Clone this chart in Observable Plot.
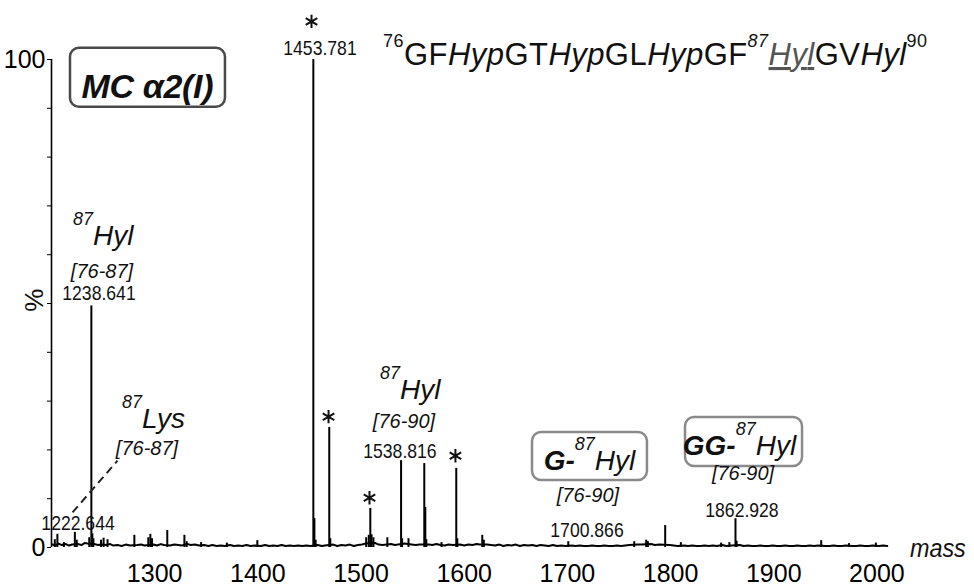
<!DOCTYPE html>
<html><head><meta charset="utf-8">
<script src="https://cdn.jsdelivr.net/npm/d3@7"></script>
<script src="https://cdn.jsdelivr.net/npm/@observablehq/plot@0.6"></script>
<style>body{margin:0;background:#fff} svg{display:block}</style>
</head><body><div id="chart"></div>
<script>
// ---- data ----
const peakMass = [1203.2,1205.7,1212,1222.644,1224.5,1236.6,1238.641,1239.6,1240.6,1248,1250.5,1254.3,1280.3,1293.8,1295.8,1297.4,1312.2,1328.8,1331,1345,1370,1399.5,1453.781,1454.8,1456,1469.2,1470.2,1505,1507.5,1509.0,1510.2,1512,1525.5,1538.816,1539.8,1546,1561.3,1562.3,1563.3,1578,1592.3,1593.3,1617.5,1619,1700.866,1764.8,1776.4,1778,1794.8,1810,1849,1857,1862.928,1864,1946,1973,1999];
const peakIntensity = [1.6,2.7,1.0,3.1,1.5,2.0,49.5,2.8,1.8,1.5,1.9,1.6,2.5,2.0,2.7,1.8,3.5,2.5,1.2,1.0,0.9,1.4,100,5.9,1.5,24.6,1.8,2.0,2.5,8.0,2.6,2.0,2.0,17.8,1.8,1.8,17.2,8.2,1.6,1.0,16.2,1.8,2.5,1.5,1.2,1.2,1.5,1.2,4.5,1.0,0.9,1.0,5.9,1.3,1.4,0.8,0.9];
const noise = [[1201,.6],[1204,.4],[1207,.8],[1210,.5],[1214,.7],[1217,.4],[1220,.6],[1226,.7],[1229,.5],[1232,.9],[1235,.8],[1242,.7],[1245,.5],[1249,.6],[1253,.5],[1257,.7],[1260,.4],[1264,.5],[1268,.3],[1272,.6],[1276,.4],[1283,.5],[1287,.6],[1290,.4],[1299,.6],[1302,.4],[1306,.7],[1309,.5],[1315,.4],[1319,.6],[1323,.5],[1326,.4],[1332,.7],[1335,.5],[1339,.6],[1343,.4],[1348,.5],[1352,.3],[1356,.5],[1360,.3],[1364,.4],[1368,.3],[1373,.5],[1377,.3],[1381,.4],[1385,.3],[1389,.5],[1393,.3],[1397,.4],[1403,.3],[1407,.5],[1411,.3],[1415,.4],[1419,.3],[1423,.5],[1427,.3],[1431,.4],[1435,.3],[1439,.4],[1443,.3],[1447,.4],[1451,.3],[1458,.5],[1462,.3],[1465,.4],[1473,.6],[1477,.3],[1481,.5],[1485,.4],[1489,.6],[1493,.3],[1497,.5],[1501,.6],[1504,.8],[1514,.9],[1517,.6],[1521,.5],[1529,.7],[1533,.5],[1536,.6],[1542,.8],[1549,.6],[1553,.5],[1557,.6],[1566,.6],[1569,.5],[1573,.7],[1577,.5],[1581,.4],[1585,.6],[1589,.5],[1596,.6],[1600,.4],[1604,.6],[1608,.5],[1612,.7],[1615,.6],[1622,.6],[1626,.5],[1630,.4],[1634,.6],[1638,.3],[1642,.5],[1646,.4],[1650,.6],[1654,.3],[1658,.5],[1662,.4],[1666,.5],[1670,.3],[1674,.5],[1678,.4],[1682,.3],[1686,.5],[1690,.3],[1694,.4],[1698,.3],[1704,.4],[1708,.3],[1712,.4],[1716,.3],[1720,.3],[1724,.4],[1728,.3],[1732,.3],[1736,.4],[1740,.3],[1744,.3],[1748,.4],[1752,.3],[1756,.4],[1760,.5],[1768,.6],[1772,.6],[1781,.7],[1785,.5],[1789,.6],[1799,.5],[1803,.4],[1807,.3],[1813,.4],[1817,.3],[1821,.4],[1825,.3],[1829,.3],[1833,.4],[1837,.3],[1841,.4],[1845,.3],[1850,.5],[1854,.3],[1859,.4],[1867,.5],[1871,.3],[1875,.4],[1879,.3],[1883,.3],[1887,.4],[1891,.3],[1895,.3],[1899,.4],[1903,.3],[1907,.3],[1911,.4],[1915,.3],[1919,.3],[1923,.4],[1927,.3],[1931,.3],[1935,.4],[1939,.3],[1943,.4],[1950,.3],[1954,.3],[1958,.4],[1962,.3],[1966,.3],[1970,.4],[1976,.3],[1980,.3],[1984,.4],[1988,.3],[1992,.3],[1996,.4],[2002,.3],[2006,.4],[2010,.3]];
const xTicks = [1300,1400,1500,1600,1700,1800,1900,2000];
const yTicks = [0,10,20,30,40,50,60,70,80,90,100];
const yTickLabels = {0:"0",100:"100"};
const peakLabels = ["1453.781","1238.641","1222.644","1538.816","1700.866","1862.928"];
const starredMasses = [1453.781,1469.2,1509.0,1592.3];

// ---- annotation layout (data-space anchors) ----
const FONT = "'Liberation Sans', Arial, Helvetica, sans-serif";
const peakLabelPos = [[1460.7,100.8],[1246.5,50.6],[1226.2,3.5],[1538.2,18.2],[1719.5,2.0],[1869.7,6.1]];
const starPos = [[1452.0,107.8],[1468.5,26.8],[1508.2,10.2],[1591.5,18.8]];
const peaks = peakMass.map((m,i)=>({mass:m, intensity:peakIntensity[i]}));

const plot = Plot.plot({
  width: 974, height: 587,
  marginLeft: 51, marginRight: 46, marginTop: 59, marginBottom: 40,
  style: {fontFamily: FONT, fontSize: "25px", background: "white", color: "black", overflow: "visible"},
  x: {domain: [1200, 2050], ticks: xTicks, tickSize: 0, tickPadding: 17, tickFormat: d => String(d), label: null},
  y: {domain: [0, 100], ticks: yTicks, tickSize: 4, tickPadding: 2, tickFormat: d => yTickLabels[d] ?? "", label: null},
  marks: [
    Plot.line(noise, {x: d => d[0], y: d => d[1], stroke: "black", strokeWidth: 2}),
    Plot.ruleX(peaks, {x: "mass", y1: 0, y2: "intensity", stroke: "black", strokeWidth: 2}),
    Plot.ruleX([1200], {y1: 0, y2: 100, stroke: "black", strokeWidth: 1.6}),
    Plot.link([{x1:1220.4,y1:7.2,x2:1264.0,y2:17.8}], {x1:"x1",y1:"y1",x2:"x2",y2:"y2", stroke:"#222", strokeWidth: 2, strokeDasharray: "8,5"}),
    Plot.dot(starPos, {x: d => d[0], y: d => d[1], symbol: "asterisk", r: 6.3, stroke: "#111", strokeWidth: 2, clip: false})
  ]
});
document.getElementById("chart").appendChild(plot);

const svg = d3.select(plot.tagName.toLowerCase() === "svg" ? plot : plot.querySelector("svg"));
const X = plot.scale("x"), Y = plot.scale("y");
const px = m => X.apply(m), py = v => Y.apply(v);
const g = svg.append("g").attr("font-family", FONT).attr("fill", "#111");

function rich(m, v, parts, {anchor = "start", sx = 1, textLength = null, rotate = 0} = {}) {
  const t = g.append("text")
    .attr("transform", `translate(${px(m)},${py(v)}) rotate(${rotate}) scale(${sx},1)`)
    .attr("text-anchor", anchor);
  let prev = 0;
  for (const p of parts) {
    const shift = p.sup ? -p.sup : 0;
    const ts = t.append("tspan").text(p.text).attr("font-size", p.size).attr("dy", shift - prev);
    prev = shift;
    if (p.italic) ts.attr("font-style", "italic");
    if (p.bold) ts.attr("font-weight", "bold");
    if (p.fill) ts.attr("fill", p.fill);
    if (p.underline) ts.attr("text-decoration", "underline");
  }
  if (textLength) t.attr("textLength", textLength).attr("lengthAdjust", "spacing");
  return t;
}
function box(m1, v1, m2, v2, stroke) {
  g.append("rect").attr("x", px(m1)).attr("y", py(v1))
    .attr("width", px(m2) - px(m1)).attr("height", py(v2) - py(v1))
    .attr("rx", 9).attr("fill", "white").attr("stroke", stroke).attr("stroke-width", 2.5);
}

// peak value labels
peakLabels.forEach((s, i) => rich(peakLabelPos[i][0], peakLabelPos[i][1], [{text: s, size: 20}], {anchor: "middle", sx: 0.88}));

// 87Hyl [76-87]
rich(1221.3, 61.9, [{text: "87", size: 18, italic: true, sup: 20}, {text: "Hyl", size: 28, italic: true}]);
rich(1249.4, 55.1, [{text: "[76-87]", size: 20, italic: true}], {anchor: "middle"});
// 87Lys [76-87]
rich(1268.8, 24.4, [{text: "87", size: 18, italic: true, sup: 20}, {text: "Lys", size: 28, italic: true}]);
rich(1293.0, 18.9, [{text: "[76-87]", size: 20, italic: true}], {anchor: "middle"});
// 87Hyl [76-90]
rich(1518.9, 30.3, [{text: "87", size: 18, italic: true, sup: 20}, {text: "Hyl", size: 28, italic: true}]);
rich(1542.1, 24.4, [{text: "[76-90]", size: 20, italic: true}], {anchor: "middle"});
// G-87Hyl box
box(1666.2, 23.57, 1777.6, 13.73, "#8a8a8a");
rich(1721.9, 15.8, [{text: "G-", size: 28, italic: true, bold: true}, {text: "87", size: 18, italic: true, sup: 20}, {text: "Hyl", size: 28, italic: true}], {anchor: "middle"});
rich(1720.4, 9.2, [{text: "[76-90]", size: 20, italic: true}], {anchor: "middle"});
// GG-87Hyl box
box(1814.5, 26.64, 1927.9, 16.6, "#8a8a8a");
rich(1867.3, 18.85, [{text: "GG-", size: 28, italic: true, bold: true}, {text: "87", size: 18, italic: true, sup: 20}, {text: "Hyl", size: 28, italic: true}], {anchor: "middle"});
rich(1870.7, 13.7, [{text: "[76-90]", size: 20, italic: true}], {anchor: "middle"});
// MC α2(I) box
box(1218.4, 102.3, 1368.6, 90.2, "#4a4a4a");
rich(1293.5, 92.0, [{text: "MC α2(I)", size: 34, italic: true, bold: true}], {anchor: "middle", textLength: 132});
// sequence title
rich(1521.8, 98.77, [
  {text: "76", size: 18, sup: 18}, {text: "GF", size: 31}, {text: "Hyp", size: 31, italic: true},
  {text: "GT", size: 31}, {text: "Hyp", size: 31, italic: true}, {text: "GL", size: 31},
  {text: "Hyp", size: 31, italic: true}, {text: "GF", size: 31},
  {text: "87", size: 18, italic: true, sup: 18}, {text: "Hyl", size: 31, italic: true, underline: true, fill: "#555"},
  {text: "GV", size: 31}, {text: "Hyl", size: 31, italic: true}, {text: "90", size: 18, sup: 18}
], {textLength: 544});
// axis titles
rich(2032.5, -2.05, [{text: "mass", size: 26, italic: true}], {sx: 0.9});
rich(1192.2, 50.6, [{text: "%", size: 26}], {anchor: "middle", rotate: -90});
</script></body></html>
